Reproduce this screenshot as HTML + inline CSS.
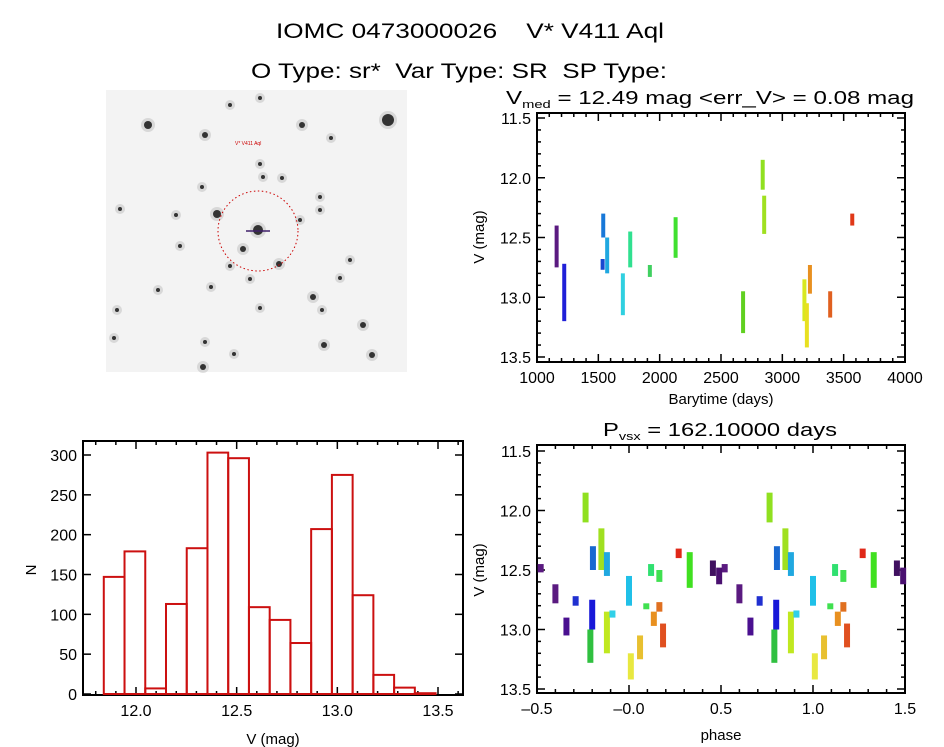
<!DOCTYPE html>
<html><head><meta charset="utf-8"><style>
body{margin:0;background:#fff;}
svg{display:block;font-family:"Liberation Sans",sans-serif;}
</style></head><body>
<svg id="fig" width="944" height="747" viewBox="0 0 944 747">
<rect width="944" height="747" fill="#fff"/>
<text x="470" y="38" font-size="21" text-anchor="middle" textLength="388" lengthAdjust="spacingAndGlyphs">IOMC 0473000026&#160;&#160;&#160;&#160;V* V411 Aql</text>
<text x="459" y="78" font-size="21" text-anchor="middle" textLength="416" lengthAdjust="spacingAndGlyphs">O Type: sr*&#160;&#160;Var Type: SR&#160;&#160;SP Type:</text>
<g id="img"></g>
<g id="lc"></g>
<g id="hist"></g>
<g id="ph"></g>
</svg>
<script>
// ---- Light curve data: segments [time, magTop, magBottom]
const lcTimes=[1160,1222,1535,1540,1572,1700,1760,1920,2130,2680,2840,2852,3180,3200,3225,3390,3570];
const lcMagTop=[12.40,12.72,12.68,12.30,12.50,12.80,12.45,12.73,12.33,12.95,11.85,12.15,12.85,13.05,12.73,12.95,12.30];
const lcMagBot=[12.75,13.20,12.77,12.50,12.80,13.15,12.75,12.83,12.67,13.30,12.10,12.47,13.20,13.42,12.97,13.17,12.40];
const lcColors=["#5a1a80","#2020d8","#1848d0","#1878d8","#20a8e0","#30d0e0","#30e090","#40d060","#40e030","#60d020","#90e020","#a0e020","#d8e820","#e8e020","#e89020","#e06020","#e03818"];
// ---- Phase plot data: clusters [phase, magTop, magBot]
const phPhase=[-0.236,-0.15,-0.196,-0.12,-0.48,-0.40,-0.34,-0.29,-0.20,-0.21,-0.12,-0.09,0.0,0.01,0.06,0.12,0.165,0.094,0.135,0.165,0.185,0.27,0.33,0.456,0.49];
const phMagTop=[11.85,12.15,12.30,12.35,12.45,12.62,12.90,12.72,12.75,13.00,12.85,12.84,12.55,13.20,13.05,12.45,12.50,12.78,12.85,12.77,12.95,12.32,12.35,12.42,12.48];
const phMagBot=[12.10,12.50,12.50,12.55,12.52,12.78,13.05,12.80,13.00,13.28,13.20,12.90,12.80,13.42,13.25,12.55,12.60,12.83,12.97,12.85,13.15,12.40,12.65,12.55,12.62];
const phColors=["#90e020","#a0e020","#1868d0","#20a8e0","#5a1a80","#5a1a80","#4a1090","#2030d0","#1818d8","#30c040","#c0e820","#30d0e8","#20c0e8","#e8e840","#e8c030","#30e070","#40e050","#40e050","#e89020","#e07020","#e05020","#e02818","#40e020","#401060","#4a1070"];
// ---- Histogram data
const histStart=11.84, histWidth=0.103;
const histCounts=[147,179,7,113,183,303,296,109,93,64,207,275,124,24,8,1];

const NS="http://www.w3.org/2000/svg";
function el(tag,attrs,parent){const e=document.createElementNS(NS,tag);for(const k in attrs)e.setAttribute(k,attrs[k]);parent.appendChild(e);return e;}
function lin(d0,d1,r0,r1){return v=>r0+(v-d0)/(d1-d0)*(r1-r0);}

function axes(g,box,xs,ys,xr,yr,xMaj,xMin,yMaj,yMin,xFmt,yFmt,yMinor){
  const [L,T,R,B]=box;
  const r=el('rect',{x:L,y:T,width:R-L,height:B-T,fill:'none',stroke:'#000','stroke-width':2},g);
  
  
  for(let v=xr[0];v<=xr[1]+1e-9;v+=xMin){
    const x=xs(v);const maj=Math.abs(Math.round(v/xMaj)*xMaj-v)<1e-6;const len=maj?8:4;
    el('line',{x1:x,y1:B,x2:x,y2:B-len,stroke:'#000','stroke-width':1.5},g);
    el('line',{x1:x,y1:T,x2:x,y2:T+len,stroke:'#000','stroke-width':1.5},g);
    if(maj){const t=el('text',{x:x,y:B+21,'font-size':16,'text-anchor':'middle'},g);t.textContent=xFmt(v);
      
      }
  }
  const step=yMinor?yMin:yMaj;
  for(let v=yr[0];v<=yr[1]+1e-9;v+=step){
    const y=ys(v);const maj=Math.abs(Math.round(v/yMaj)*yMaj-v)<1e-6;const len=maj?8:4;
    el('line',{x1:L,y1:y,x2:L+len,y2:y,stroke:'#000','stroke-width':1.5},g);
    el('line',{x1:R,y1:y,x2:R-len,y2:y,stroke:'#000','stroke-width':1.5},g);
    if(maj){const t=el('text',{x:L-6,y:y+6,'font-size':16,'text-anchor':'end'},g);t.textContent=yFmt(v);
      
      }
  }
}
function label(g,x,y,txt,rot,name,size){
  const t=el('text',{x:x,y:y,'font-size':size||15,'text-anchor':'middle'},g);
  if(rot)t.setAttribute('transform',`rotate(-90 ${x} ${y})`);
  t.textContent=txt;
  
  
  return t;
}
function seg(g,x,y1,y2,c,name,w){
  w=w||4;
  const r=el('rect',{x:x-w/2,y:Math.min(y1,y2),width:w,height:Math.max(2,Math.abs(y2-y1)),fill:c},g);
  
  
}

// ---- Light curve
(function(){
  const g=document.getElementById('lc');
  const box=[537,113,905,362];
  const xs=lin(1000,4000,537,905), ys=lin(11.5,13.5,118,357);
  axes(g,box,xs,ys,[1000,4000],[11.5,13.5],500,100,0.5,0.1,v=>v.toFixed(0),v=>v.toFixed(1),true);
  lcTimes.forEach((t,i)=>seg(g,xs(t),ys(lcMagTop[i]),ys(lcMagBot[i]),lcColors[i],'lc-season',4));
  const t=el('text',{x:710,y:104,'font-size':18,'text-anchor':'middle',textLength:408,lengthAdjust:'spacingAndGlyphs'},g);
  t.innerHTML='V<tspan font-size="11" dy="4">med</tspan><tspan dy="-4"> = 12.49 mag &lt;err_V&gt; = 0.08 mag</tspan>';
  
  
  label(g,721,404,'Barytime (days)',false,'x-axis-title');
  label(g,484,237,'V (mag)',true,'y-axis-title');
})();

// ---- Phase plot
(function(){
  const g=document.getElementById('ph');
  const box=[537,445,905,693];
  const xs=lin(-0.5,1.5,537,905), ys=lin(11.5,13.5,451,689);
  axes(g,box,xs,ys,[-0.5,1.5],[11.5,13.5],0.5,0.1,0.5,0.1,v=>v.toFixed(1).replace('-','\u2013'),v=>v.toFixed(1),true);
  phPhase.forEach((p,i)=>{
    [p,p+1].forEach(q=>{ if(q>=-0.5&&q<=1.5) seg(g,xs(q),ys(phMagTop[i]),ys(phMagBot[i]),phColors[i],'phase-cluster',6); });
  });
  const t=el('text',{x:720,y:436,'font-size':18,'text-anchor':'middle',textLength:234,lengthAdjust:'spacingAndGlyphs'},g);
  t.innerHTML='P<tspan font-size="11" dy="4">vsx</tspan><tspan dy="-4"> = 162.10000 days</tspan>';
  
  
  label(g,721,740,'phase',false,'x-axis-title');
  label(g,484,570,'V (mag)',true,'y-axis-title');
})();

// ---- Histogram
(function(){
  const g=document.getElementById('hist');
  const box=[83,441,463,695];
  const xs=lin(12.0,13.5,136,438), ys=lin(0,300,694,455);
  axes(g,box,xs,ys,[11.8,13.6],[0,300],0.5,0.1,50,50,v=>v.toFixed(1),v=>v.toFixed(0),false);
  histCounts.forEach((c,i)=>{
    const x0=xs(histStart+i*histWidth),x1=xs(histStart+(i+1)*histWidth);
    const r=el('rect',{x:x0,y:ys(c),width:x1-x0,height:ys(0)-ys(c),fill:'none',stroke:'#cc1010','stroke-width':2},g);
    
    
  });
  label(g,273,744,'V (mag)',false,'x-axis-title');
  label(g,36,570,'N',true,'y-axis-title');
})();

// ---- Sky image (decorative)
(function(){
  const g=document.getElementById('img');
  el('rect',{x:106,y:90,width:301,height:282,fill:'#f3f3f3'},g);
  const stars=[[258,230,5],[388,120,6],[148,125,4],[205,135,3],[217,214,4],[243,249,3],[279,264,3],[260,164,2],[302,125,3],[331,138,2],[263,177,2],[282,178,2],[120,209,2],[202,187,2],[320,197,2],[260,98,2],[230,105,2],[363,325,3],[324,345,3],[313,297,3],[205,342,2],[322,310,2],[372,355,3],[230,266,2],[211,287,2],[260,308,2],[117,310,2],[114,338,2],[203,367,3],[234,354,2],[340,278,2],[350,260,2],[320,210,2],[180,246,2],[250,279,2],[158,290,2],[176,215,2],[300,220,2]];
  stars.forEach(s=>{
    el('circle',{cx:s[0],cy:s[1],r:s[2]+3,fill:'#888',opacity:0.25},g);
    el('circle',{cx:s[0],cy:s[1],r:s[2],fill:'#333'},g);
  });
  el('circle',{cx:258,cy:231,r:40,fill:'none',stroke:'#c00','stroke-width':1,'stroke-dasharray':'1.5 2.5'},g);
  el('line',{x1:246,y1:231,x2:270,y2:231,stroke:'#40206a','stroke-width':1.5},g);
  const t=el('text',{x:235,y:145,'font-size':5,fill:'#c00'},g);t.textContent='V* V411 Aql';
  
  
})();
</script>
</body></html>
